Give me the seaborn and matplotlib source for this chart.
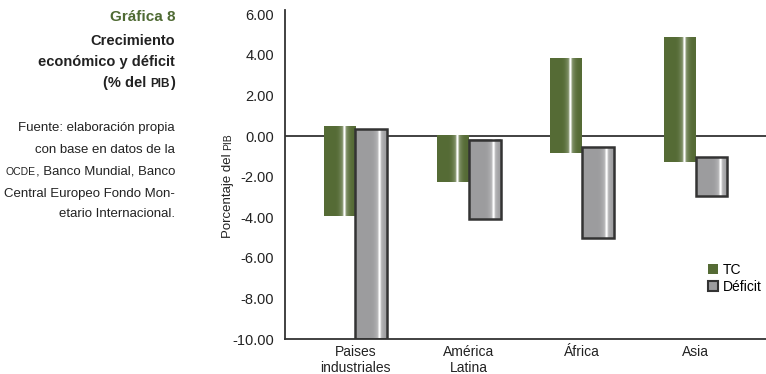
import numpy as np
import pandas as pd
import seaborn as sns
import matplotlib.pyplot as plt
import matplotlib.patches as mpatches
import matplotlib as mpl

mpl.rcParams['font.family'] = 'sans-serif'
mpl.rcParams['font.sans-serif'] = ['Liberation Sans']
mpl.rcParams['axes.unicode_minus'] = False

regiones = ['Paises\nindustriales', 'América\nLatina', 'África', 'Asia']
series = ['TC', 'Déficit']
tc_arriba = [0.46, 0.0, 3.83, 4.85]
tc_abajo = [-3.94, -2.27, -0.81, -1.30]
def_arriba = [0.33, -0.21, -0.55, -1.04]
def_abajo = [-10.0, -4.10, -5.00, -2.93]
yticks = [6, 4, 2, 0, -2, -4, -6, -8, -10]

verde = '#556b35'
gris = '#9c9c9e'
oscuro = '#333333'

df = pd.DataFrame({
    'region': regiones * 2,
    'serie': ['TC'] * 4 + ['Déficit'] * 4,
    'arriba': tc_arriba + def_arriba,
    'abajo': tc_abajo + def_abajo,
})
df['alto'] = df['arriba'] - df['abajo']

fig = plt.figure(figsize=(7.66, 3.74), dpi=100)
ax = fig.add_axes([0.372, 0.093, 0.628, 0.88])

sns.barplot(data=df, x='region', y='alto', hue='serie', hue_order=series,
            palette={'TC': verde, 'Déficit': gris}, width=0.56,
            errorbar=None, legend=False, ax=ax, zorder=2)


def sombra(ax, p, base, pos):
    # cylinder look: base colour with a white highlight near the right side
    t = np.linspace(0, 1, 400)
    k = 0.9 * np.exp(-((t - pos) / 0.035) ** 2) + 0.3 * np.exp(-((t - pos) / 0.14) ** 2)
    k = np.clip(k, 0, 1)[:, None]
    c = np.array(mpl.colors.to_rgb(base))
    img = c * (1 - k) + k
    x0, y0 = p.get_x(), p.get_y()
    ax.imshow(img[None, :, :], extent=[x0, x0 + p.get_width(), y0, y0 + p.get_height()],
              aspect='auto', zorder=2.5, interpolation='antialiased')


for cont, serie in zip(ax.containers, series):
    sub = df[df['serie'] == serie].reset_index(drop=True)
    for i, p in enumerate(cont.patches):
        p.set_y(sub.loc[i, 'abajo'])
        if serie == 'TC':
            p.set_edgecolor('none')
            sombra(ax, p, verde, 0.64)
        else:
            p.set_facecolor('none')
            p.set_edgecolor(oscuro)
            p.set_linewidth(1.8)
            p.set_zorder(3)
            sombra(ax, p, gris, 0.77)

ax.axhline(0, color=oscuro, lw=1.3, zorder=1)
ax.set_xlim(-0.62, 3.62)
ax.set_ylim(-10, 6.2)
ax.set_yticks(yticks)
ax.set_yticklabels(['%.2f' % v for v in yticks], fontsize=10.5, color='#222222')
ax.tick_params(axis='x', length=0, pad=4, labelsize=10, labelcolor='#222222')
ax.tick_params(axis='y', length=0, pad=8)
ax.set_xlabel('')
ax.set_ylabel('')
sns.despine(ax=ax)
for s in ['left', 'bottom']:
    ax.spines[s].set_color(oscuro)
    ax.spines[s].set_linewidth(1.3)
ax.spines['bottom'].set_position(('data', -10))

h_tc = mpatches.Patch(facecolor=verde, edgecolor='none', label='TC')
h_def = mpatches.Patch(facecolor=gris, edgecolor=oscuro, linewidth=1.5, label='Déficit')
fig.legend(handles=[h_tc, h_def], loc='upper left', bbox_to_anchor=(708 / 766, 1 - 263 / 374),
           frameon=False, fontsize=10, handlelength=0.75, handleheight=0.75,
           handletextpad=0.3, labelspacing=0.2, borderpad=0, borderaxespad=0)

renderer = fig.canvas.get_renderer()


def linea(x, y, partes, **kw):
    # right-aligned line built from pieces (text, size) to fake small caps
    for texto, size in reversed(partes):
        t = fig.text(x, y, texto, ha='right', va='baseline', fontsize=size, **kw)
        w = t.get_window_extent(renderer).width
        x -= w / fig.bbox.width


xr = 175 / 766
linea(xr, 1 - 21 / 374, [('Gráfica 8', 11)], fontweight='bold', color='#4f6a33')
for y, partes in [(45, [('Crecimiento', 10.5)]),
                  (66, [('económico y déficit', 10.5)]),
                  (87, [('(% del ', 10.5), ('PIB', 8.5), (')', 10.5)])]:
    linea(xr, 1 - y / 374, partes, fontweight='bold', color='#222222')
for y, partes in [(131, [('Fuente: elaboración propia', 9.5)]),
                  (153, [('con base en datos de la', 9.5)]),
                  (175, [('OCDE', 7.5), (', Banco Mundial, Banco', 9.5)]),
                  (197, [('Central Europeo Fondo Mon-', 9.5)]),
                  (217, [('etario Internacional.', 9.5)])]:
    linea(xr, 1 - y / 374, partes, color='#222222')

# rotated axis title, small-caps PIB appended above
xb = 231 / 766
yb = 1 - 238 / 374
t1 = fig.text(xb, yb, 'Porcentaje del ', rotation=90, rotation_mode='anchor',
              ha='left', va='baseline', fontsize=9.5, color='#222222')
h = t1.get_window_extent(renderer).height / fig.bbox.height
fig.text(xb, yb + h, 'PIB', rotation=90, rotation_mode='anchor',
         ha='left', va='baseline', fontsize=7.5, color='#222222')

plt.savefig('out.png', dpi=100)
plt.close()
